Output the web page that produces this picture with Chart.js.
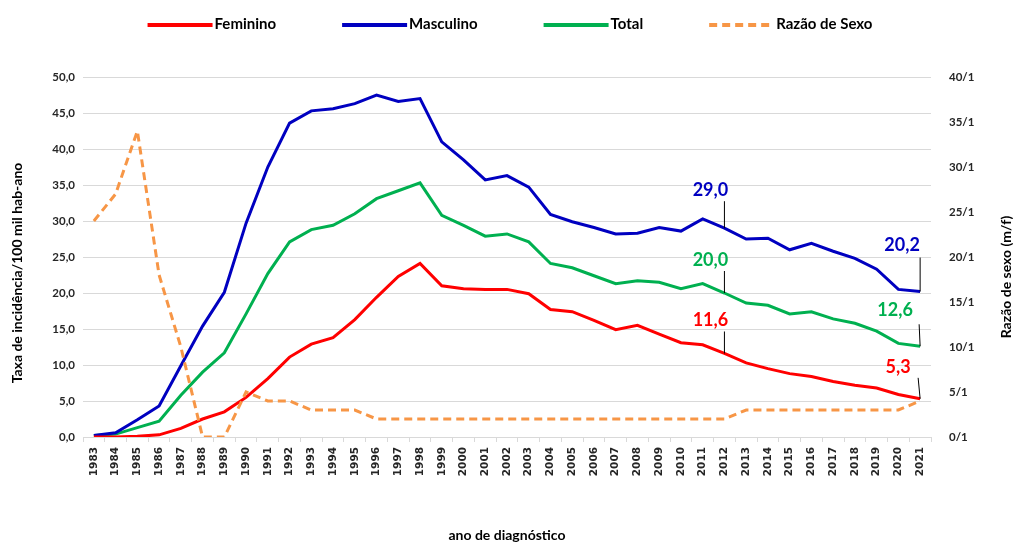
<!DOCTYPE html>
<html lang="pt">
<head>
  <meta charset="UTF-8">
  <title>Taxa de incidência por sexo</title>
  <script src="https://cdn.jsdelivr.net/npm/chart.js@4.4.0/dist/chart.umd.min.js"></script>
  <style>
    html, body { margin: 0; padding: 0; background: #fff; }
    #wrap { width: 1014px; height: 542px; }
  </style>
</head>
<body>
  <div id="wrap"><canvas id="chart" width="1014" height="542"></canvas></div>

  <script>
    // anos de diagnóstico
    const anos = ['1983','1984','1985','1986','1987','1988','1989','1990','1991','1992',
      '1993','1994','1995','1996','1997','1998','1999','2000','2001','2002',
      '2003','2004','2005','2006','2007','2008','2009','2010','2011','2012',
      '2013','2014','2015','2016','2017','2018','2019','2020','2021'];

    // taxas por 100 mil hab-ano
    const feminino = [0.0, 0.0, 0.1, 0.3, 1.2, 2.5, 3.5, 5.5, 8.1, 11.1,
      12.9, 13.8, 16.3, 19.4, 22.3, 24.1, 21.0, 20.6, 20.5, 20.5,
      19.9, 17.7, 17.4, 16.2, 14.9, 15.5, 14.3, 13.1, 12.8, 11.6,
      10.3, 9.5, 8.8, 8.4, 7.7, 7.2, 6.8, 5.9, 5.3];

    const masculino = [0.2, 0.6, 2.4, 4.3, 9.9, 15.4, 20.1, 29.7, 37.5, 43.6,
      45.3, 45.6, 46.3, 47.5, 46.6, 47.0, 41.0, 38.5, 35.7, 36.3,
      34.7, 30.9, 29.9, 29.1, 28.2, 28.3, 29.1, 28.6, 30.3, 29.0,
      27.5, 27.6, 26.0, 26.9, 25.8, 24.8, 23.3, 20.5, 20.2];

    const total = [0.2, 0.4, 1.3, 2.2, 5.8, 9.0, 11.7, 17.1, 22.7, 27.1,
      28.8, 29.4, 31.0, 33.1, 34.2, 35.3, 30.8, 29.4, 27.9, 28.2,
      27.1, 24.1, 23.5, 22.4, 21.3, 21.7, 21.5, 20.6, 21.3, 20.0,
      18.6, 18.3, 17.1, 17.4, 16.4, 15.8, 14.7, 13.0, 12.6];

    // razão de sexo m/f
    const razao = [24, 27, 34, 18, 10, 0, 0, 5, 4, 4,
      3, 3, 3, 2, 2, 2, 2, 2, 2, 2,
      2, 2, 2, 2, 2, 2, 2, 2, 2, 2,
      3, 3, 3, 3, 3, 3, 3, 3, 4];

    const fmtTaxa = v => Number(v).toFixed(1).replace('.', ',');
    const tickFont = { family: 'Lato', size: 11.5, weight: 'bold' };
    const corTexto = '#262626';

    // rótulos de valor com linha de chamada
    const rotulos = [
      { ds: 1, i: 29, dx: -14, dy: -38, top: -27, lx: 0 },
      { ds: 2, i: 29, dx: -14, dy: -33, top: -22, lx: 0 },
      { ds: 0, i: 29, dx: -14, dy: -33, top: -22, lx: 0 },
      { ds: 1, i: 38, dx: -18, dy: -46, top: -34, lx: 0 },
      { ds: 2, i: 38, dx: -25, dy: -36, top: -22, lx: -1 },
      { ds: 0, i: 38, dx: -22, dy: -32, top: -21, lx: -2 }
    ];

    const rotulosPlugin = {
      id: 'rotulos',
      afterDatasetsDraw(chart) {
        const ctx = chart.ctx;
        ctx.save();
        ctx.font = 'bold 18px Lato';
        ctx.textAlign = 'center';
        ctx.textBaseline = 'middle';
        rotulos.forEach(r => {
          const ds = chart.data.datasets[r.ds];
          const pt = chart.getDatasetMeta(r.ds).data[r.i];
          ctx.strokeStyle = '#000';
          ctx.lineWidth = 1;
          ctx.beginPath();
          ctx.moveTo(pt.x + r.lx, pt.y + r.top);
          ctx.lineTo(pt.x, pt.y);
          ctx.stroke();
          ctx.fillStyle = ds.borderColor;
          ctx.fillText(fmtTaxa(ds.data[r.i]), pt.x + r.dx, pt.y + r.dy);
        });
        ctx.restore();
      }
    };

    // legenda e títulos dos eixos verticais
    const extrasPlugin = {
      id: 'extras',
      afterDraw(chart) {
        const ctx = chart.ctx;
        ctx.save();
        ctx.font = 'bold 15px Lato';
        ctx.textBaseline = 'middle';
        ctx.textAlign = 'left';
        const amostra = 65, gap = 66, y = 24;
        const itens = chart.data.datasets.map(d => ({ d, w: amostra + 2 + ctx.measureText(d.label).width }));
        let largura = itens.reduce((s, it) => s + it.w, 0) + gap * (itens.length - 1);
        let x = chart.width / 2 + 3 - largura / 2;
        itens.forEach(it => {
          ctx.strokeStyle = it.d.borderColor;
          ctx.lineWidth = 4;
          ctx.setLineDash(it.d.borderDash || []);
          ctx.beginPath();
          ctx.moveTo(x, y + 1);
          ctx.lineTo(x + amostra, y + 1);
          ctx.stroke();
          ctx.setLineDash([]);
          ctx.fillStyle = '#000';
          ctx.fillText(it.d.label, x + amostra + 2, y);
          x += it.w + gap;
        });

        ctx.font = 'bold 14px Lato';
        ctx.fillStyle = '#000';
        ctx.textAlign = 'center';
        ctx.translate(17, 273);
        ctx.rotate(-Math.PI / 2);
        ctx.fillText('Taxa de incidência/100 mil hab-ano', 0, 0);
        ctx.setTransform(1, 0, 0, 1, 0, 0);
        ctx.translate(1006, 277);
        ctx.rotate(-Math.PI / 2);
        ctx.fillText('Razão de sexo (m/f)', 0, 0);
        ctx.restore();
      }
    };

    new Chart(document.getElementById('chart'), {
      type: 'line',
      data: {
        labels: anos,
        datasets: [
          { label: 'Feminino', data: feminino, borderColor: '#FF0000', backgroundColor: '#FF0000', yAxisID: 'y', order: 1 },
          { label: 'Masculino', data: masculino, borderColor: '#0000C0', backgroundColor: '#0000C0', yAxisID: 'y', order: 1 },
          { label: 'Total', data: total, borderColor: '#00B050', backgroundColor: '#00B050', yAxisID: 'y', order: 1 },
          { label: 'Razão de Sexo', data: razao, borderColor: '#F79646', backgroundColor: '#F79646',
            borderDash: [8, 5], yAxisID: 'y1', order: 0 }
        ]
      },
      options: {
        responsive: false,
        animation: false,
        elements: {
          line: { borderWidth: 3, tension: 0, fill: false },
          point: { radius: 0, hoverRadius: 0 }
        },
        layout: { padding: { top: 77, left: 0, right: 0, bottom: 0 } },
        plugins: {
          legend: { display: false },
          tooltip: { enabled: false }
        },
        scales: {
          x: {
            offset: true,
            grid: { drawOnChartArea: false, drawTicks: true, tickLength: 5, color: '#d9d9d9', offset: true },
            border: { color: '#d9d9d9' },
            ticks: {
              autoSkip: false, minRotation: 90, maxRotation: 90, padding: 5, color: corTexto,
              font: { family: 'DejaVu Sans', size: 10.5, weight: 'bold' }
            },
            title: {
              display: true, text: 'ano de diagnóstico', color: '#000', padding: 0,
              font: { family: 'Lato', size: 14, weight: 'bold', lineHeight: 1 }
            },
            afterFit: s => { s.height = 105; }
          },
          y: {
            position: 'left', min: 0, max: 50,
            grid: { color: '#d9d9d9', drawTicks: false },
            border: { display: false },
            ticks: { stepSize: 5, padding: 8, color: corTexto, font: tickFont, callback: v => fmtTaxa(v) },
            afterFit: s => { s.width = 83; }
          },
          y1: {
            position: 'right', min: 0, max: 40,
            grid: { drawOnChartArea: false, drawTicks: false },
            border: { display: false },
            ticks: { stepSize: 5, padding: 18, color: corTexto, font: tickFont, callback: v => v + '/1' },
            afterFit: s => { s.width = 83; }
          }
        }
      },
      plugins: [rotulosPlugin, extrasPlugin]
    });
  </script>
</body>
</html>
